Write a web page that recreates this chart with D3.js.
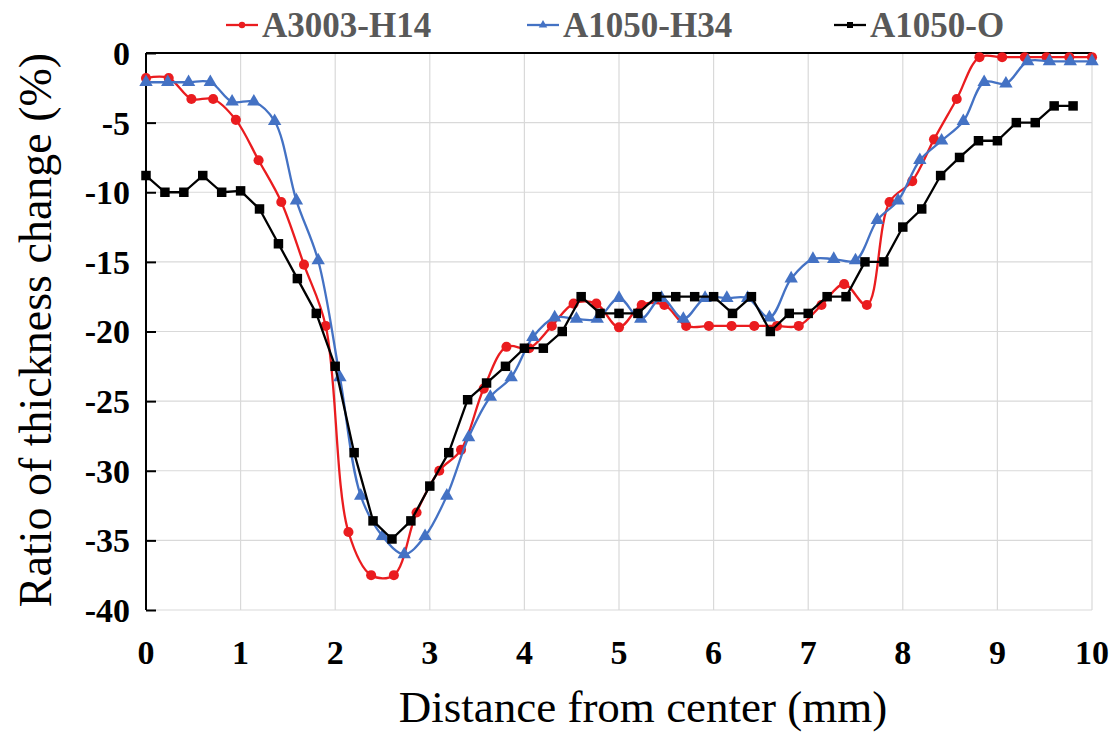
<!DOCTYPE html>
<html>
<head>
<meta charset="utf-8">
<script src="https://cdn.jsdelivr.net/npm/d3@7"></script>
<style>
  html, body { margin: 0; padding: 0; background: #fff; }
  svg { display: block; }
  text { font-family: "Liberation Serif", "Times New Roman", serif; }
</style>
</head>
<body>
<svg id="chart" width="1118" height="733"></svg>
<script>
// Thickness change profiles measured along the radius
const seriesNames = ["A3003-H14", "A1050-H34", "A1050-O"];

const a3003X = [0, 0.24, 0.48, 0.71, 0.95, 1.19, 1.43, 1.67, 1.9, 2.14, 2.38, 2.62, 2.86, 3.1, 3.33,
  3.57, 3.81, 4.05, 4.29, 4.52, 4.76, 5.0, 5.24, 5.48, 5.71, 5.95, 6.19, 6.43, 6.67, 6.9, 7.14,
  7.38, 7.62, 7.86, 8.1, 8.33, 8.57, 8.81, 9.05, 9.29, 9.52, 9.76, 10.0];
const a3003Y = [-1.8, -1.8, -3.3, -3.3, -4.8, -7.7, -10.7, -15.2, -19.6, -34.4, -37.5, -37.5, -33.0, -30.0, -28.5,
  -24.1, -21.1, -21.2, -19.6, -18.0, -18.0, -19.7, -18.1, -18.1, -19.6, -19.6, -19.6, -19.6, -19.6, -19.6, -18.1,
  -16.6, -18.1, -10.7, -9.2, -6.2, -3.3, -0.3, -0.3, -0.3, -0.3, -0.3, -0.3];

const a1050h34X = [0, 0.23, 0.45, 0.68, 0.91, 1.14, 1.36, 1.59, 1.82, 2.05, 2.27, 2.5, 2.73, 2.95, 3.18,
  3.41, 3.64, 3.86, 4.09, 4.32, 4.55, 4.77, 5.0, 5.23, 5.45, 5.68, 5.91, 6.14, 6.36, 6.59, 6.82,
  7.05, 7.27, 7.5, 7.73, 7.95, 8.18, 8.41, 8.64, 8.86, 9.09, 9.32, 9.55, 9.77, 10.0];
const a1050h34Y = [-2.1, -2.1, -2.1, -2.1, -3.5, -3.5, -4.9, -10.6, -14.9, -23.3, -31.8, -34.7, -36.0, -34.7, -31.8,
  -27.6, -24.7, -23.3, -20.4, -19.0, -19.1, -19.1, -17.6, -19.1, -17.6, -19.1, -17.6, -17.6, -17.6, -19.0, -16.2,
  -14.8, -14.8, -14.9, -12.0, -10.6, -7.7, -6.3, -4.9, -2.1, -2.2, -0.6, -0.6, -0.6, -0.6];

const a1050oX = [0, 0.2, 0.4, 0.6, 0.8, 1.0, 1.2, 1.4, 1.6, 1.8, 2.0, 2.2, 2.4, 2.6, 2.8, 3.0, 3.2, 3.4, 3.6, 3.8,
  4.0, 4.2, 4.4, 4.6, 4.8, 5.0, 5.2, 5.4, 5.6, 5.8, 6.0, 6.2, 6.4, 6.6, 6.8, 7.0, 7.2, 7.4, 7.6, 7.8,
  8.0, 8.2, 8.4, 8.6, 8.8, 9.0, 9.2, 9.4, 9.6, 9.8];
const a1050oY = [-8.8, -10.0, -10.0, -8.8, -10.0, -9.9, -11.2, -13.7, -16.2, -18.7, -22.5, -28.7, -33.6, -34.9, -33.6,
  -31.1, -28.7, -24.9, -23.7, -22.5, -21.2, -21.2, -20.0, -17.5, -18.7, -18.7, -18.7, -17.5, -17.5, -17.5,
  -17.5, -18.7, -17.5, -20.0, -18.7, -18.7, -17.5, -17.5, -15.0, -15.0, -12.5, -11.2, -8.8, -7.5, -6.3,
  -6.3, -5.0, -5.0, -3.8, -3.8];

const xTicks = [0, 1, 2, 3, 4, 5, 6, 7, 8, 9, 10];
const yTicks = [0, -5, -10, -15, -20, -25, -30, -35, -40];

const xTitle = "Distance from center (mm)";
const yTitle = "Ratio of thickness change (%)";

const svg = d3.select("#chart");
const plot = { left: 146, right: 1092, top: 53, bottom: 610 };

const x = d3.scaleLinear().domain([0, 10]).range([plot.left, plot.right]);
const y = d3.scaleLinear().domain([-40, 0]).range([plot.bottom, plot.top]);

// gridlines
const grid = svg.append("g").attr("stroke", "#d9d9d9").attr("stroke-width", 1.2);
grid.selectAll("line.h").data(yTicks.filter(d => d !== 0)).join("line")
  .attr("x1", plot.left).attr("x2", plot.right)
  .attr("y1", d => y(d)).attr("y2", d => y(d));
grid.selectAll("line.v").data(xTicks.filter(d => d !== 0)).join("line")
  .attr("x1", d => x(d)).attr("x2", d => x(d))
  .attr("y1", plot.top).attr("y2", plot.bottom);

// vertical axis with inward ticks
const yAxis = d3.axisRight(y).tickValues(yTicks).tickSize(10).tickFormat("");
const yAxisG = svg.append("g").attr("transform", `translate(${plot.left},0)`).call(yAxis);
yAxisG.select(".domain").attr("stroke", "#000").attr("stroke-width", 2).attr("d", `M0,${plot.top}V${plot.bottom}`);
yAxisG.selectAll(".tick line").attr("stroke", "#000").attr("stroke-width", 2);

// horizontal axis line crosses at zero
svg.append("line")
  .attr("x1", plot.left).attr("x2", plot.right)
  .attr("y1", y(0)).attr("y2", y(0))
  .attr("stroke", "#000").attr("stroke-width", 2);

// tick labels
svg.append("g").selectAll("text").data(yTicks).join("text")
  .attr("x", 130).attr("y", d => y(d))
  .attr("dy", "0.35em")
  .attr("text-anchor", "end")
  .attr("font-weight", "bold").attr("font-size", 34).attr("fill", "#000")
  .text(d => d);

svg.append("g").selectAll("text").data(xTicks).join("text")
  .attr("x", d => x(d)).attr("y", 664)
  .attr("text-anchor", "middle")
  .attr("font-weight", "bold").attr("font-size", 34).attr("fill", "#000")
  .text(d => d);

// axis titles
svg.append("text")
  .attr("x", 643).attr("y", 722)
  .attr("text-anchor", "middle")
  .attr("font-size", 45).attr("fill", "#000")
  .text(xTitle);

svg.append("text")
  .attr("transform", `translate(51,330) rotate(-90)`)
  .attr("text-anchor", "middle")
  .attr("font-size", 46).attr("fill", "#000")
  .text(yTitle);

// series
const series = [
  { name: seriesNames[0], xs: a3003X, ys: a3003Y, color: "#ea1c1f", marker: "circle", curve: d3.curveCatmullRom.alpha(0.5) },
  { name: seriesNames[1], xs: a1050h34X, ys: a1050h34Y, color: "#4472c4", marker: "triangle", curve: d3.curveCatmullRom.alpha(0.5) },
  { name: seriesNames[2], xs: a1050oX, ys: a1050oY, color: "#000000", marker: "square", curve: d3.curveLinear }
];

const symbolFor = { circle: d3.symbolCircle, triangle: d3.symbolTriangle, square: d3.symbolSquare };
const sizeFor = { circle: 80, triangle: 78, square: 90 };

series.forEach(s => {
  const pts = s.xs.map((v, i) => [v, s.ys[i]]);
  const line = d3.line().x(d => x(d[0])).y(d => y(d[1])).curve(s.curve);
  const g = svg.append("g");
  g.append("path").datum(pts)
    .attr("fill", "none").attr("stroke", s.color).attr("stroke-width", 2.3)
    .attr("stroke-linejoin", "round")
    .attr("d", line);
  g.selectAll("path.m").data(pts).join("path")
    .attr("class", "m")
    .attr("transform", d => `translate(${x(d[0])},${y(d[1])})`)
    .attr("d", d3.symbol().type(symbolFor[s.marker]).size(sizeFor[s.marker]))
    .attr("fill", s.color);
});

// legend
const legendX = [226, 527, 834];
const legend = svg.append("g");
series.forEach((s, i) => {
  const lg = legend.append("g").attr("transform", `translate(${legendX[i]},25)`);
  lg.append("line").attr("x1", 0).attr("x2", 32).attr("y1", 0).attr("y2", 0)
    .attr("stroke", s.color).attr("stroke-width", 2.3);
  lg.append("path").attr("transform", "translate(16,0)")
    .attr("d", d3.symbol().type(symbolFor[s.marker]).size(sizeFor[s.marker] * 0.4))
    .attr("fill", s.color);
  lg.append("text").attr("x", 36).attr("y", 0).attr("dy", "0.35em")
    .attr("font-weight", "bold").attr("font-size", 35).attr("fill", "#595959")
    .text(s.name);
});
</script>
</body>
</html>
